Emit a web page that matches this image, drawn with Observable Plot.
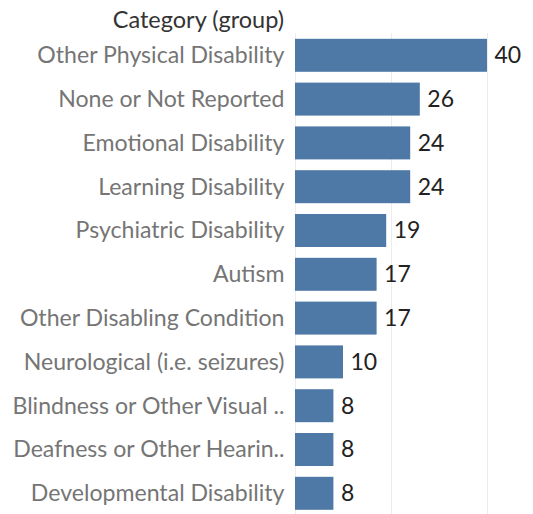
<!DOCTYPE html>
<html>
<head>
<meta charset="utf-8">
<script src="https://cdn.jsdelivr.net/npm/d3@7"></script>
<script src="https://cdn.jsdelivr.net/npm/@observablehq/plot@0.6"></script>
<style>
  html, body { margin: 0; padding: 0; background: #fff; overflow: hidden; }
  #chart svg { display: block; }
</style>
</head>
<body>
<div id="chart"></div>
<script>
const categories = [
  "Other Physical Disability",
  "None or Not Reported",
  "Emotional Disability",
  "Learning Disability",
  "Psychiatric Disability",
  "Autism",
  "Other Disabling Condition",
  "Neurological (i.e. seizures)",
  "Blindness or Other Visual ..",
  "Deafness or Other Hearin..",
  "Developmental Disability"
];
const counts = [40, 26, 24, 24, 19, 17, 17, 10, 8, 8, 8];
const gridTicks = [0, 20, 40];
const titleText = "Category (group)";

const data = categories.map((c, i) => ({category: c, count: counts[i]}));

const FONT = "Lato, 'Open Sans', sans-serif";
// fit label font so the longest label spans ~248px like the reference
const ctx = document.createElement("canvas").getContext("2d");
ctx.font = "20px Lato";
const w20 = ctx.measureText("Other Physical Disability").width;
const labelSize = Math.round(20 * 248 / w20 * 10) / 10;

const W = 533, H = 514;
const plot = Plot.plot({
  width: W,
  height: H,
  marginLeft: 295,
  marginRight: 46,
  marginTop: 33,
  marginBottom: 0,
  style: {fontFamily: FONT, background: "#fff", overflow: "hidden"},
  x: {domain: [0, 40], axis: null},
  y: {domain: categories, range: [33.4, 515.2], round: false, paddingInner: 0.247, paddingOuter: 0.1235, label: null, tickSize: 0, tickPadding: 11},
  marks: [
    Plot.ruleX(gridTicks, {stroke: "#ececec", strokeWidth: 1}),
    Plot.barX(data, {x: "count", y: "category", fill: "#4e79a7"}),
    Plot.text(data, {x: "count", y: "category", text: d => String(d.count), textAnchor: "start", dx: 7, fill: "#222", fontSize: 23}),
    Plot.axisY({tickSize: 0, tickPadding: 11, fontSize: labelSize, color: "#757575", label: null})
  ]
});
d3.select(plot).append("text")
  .attr("x", 284).attr("y", 28)
  .attr("text-anchor", "end")
  .attr("fill", "#333")
  .attr("font-family", FONT)
  .attr("font-size", 23.5)
  .text(titleText);
document.getElementById("chart").appendChild(plot);
</script>
</body>
</html>
